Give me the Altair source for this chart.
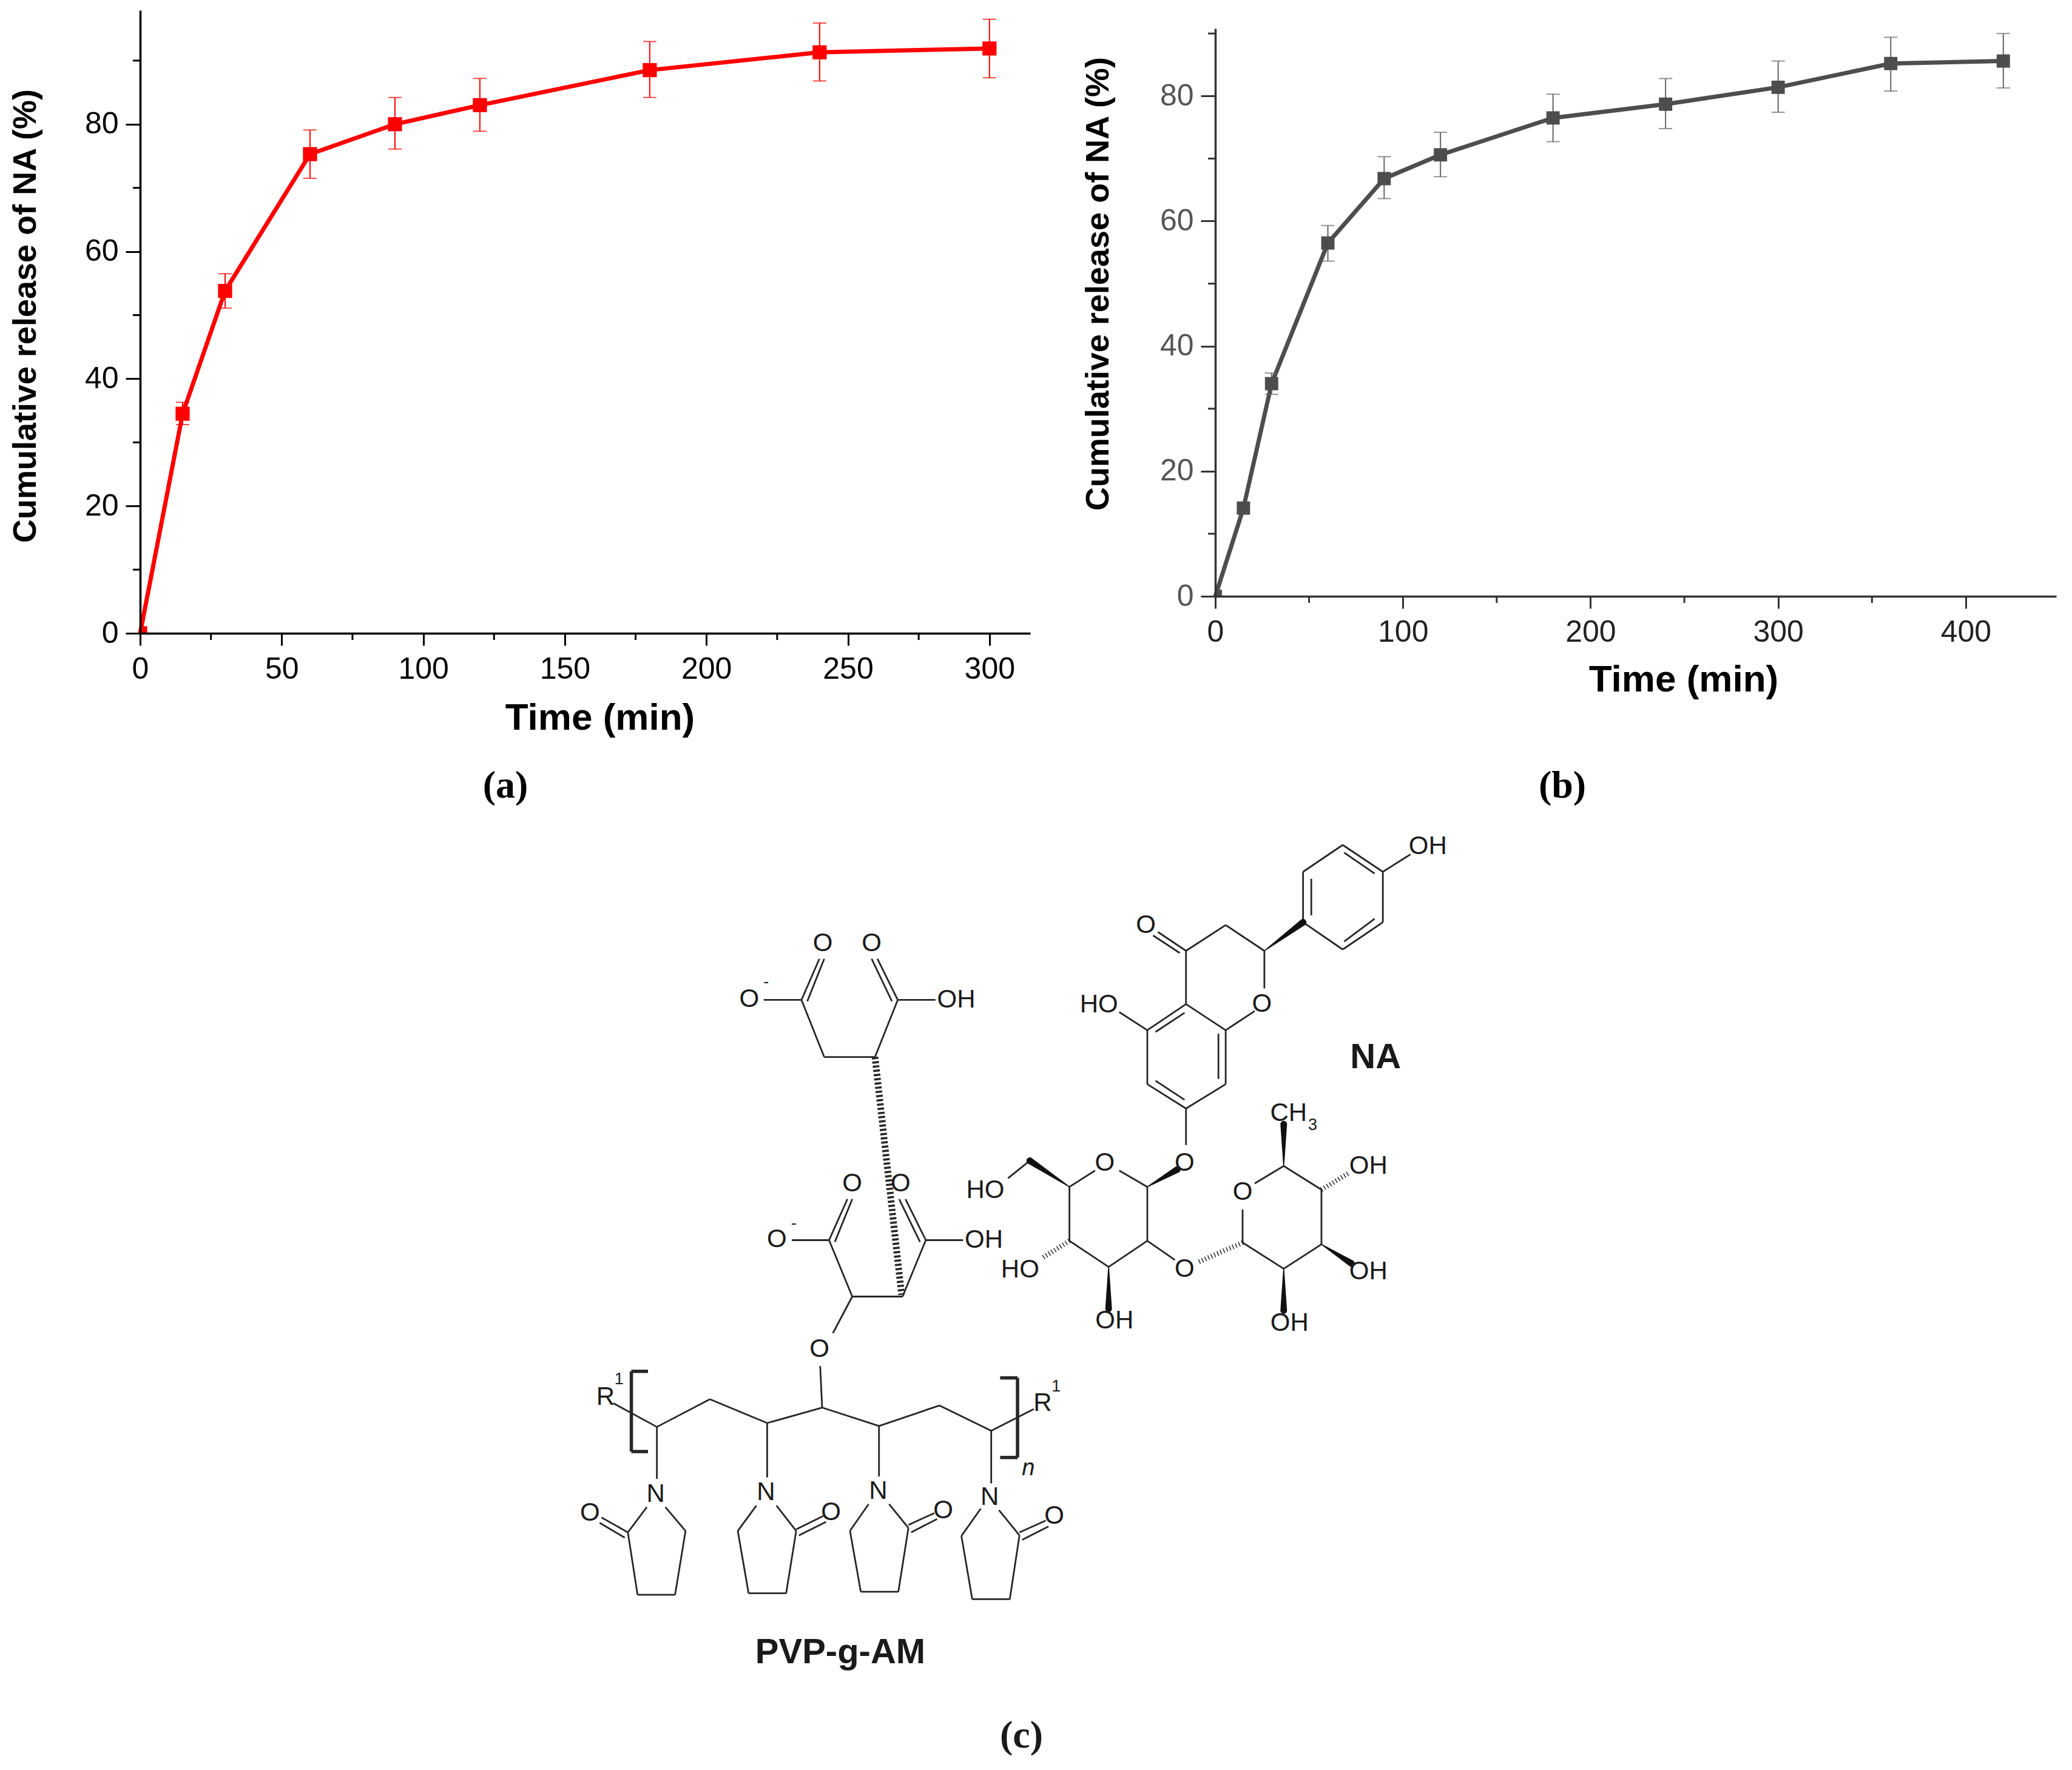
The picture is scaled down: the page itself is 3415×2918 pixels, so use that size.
import altair as alt
import pandas as pd

SANS = "Liberation Sans"
SERIF = "Liberation Serif"

# ---------- panel (a) ----------
a_time = [0, 15, 30, 60, 90, 120, 180, 240, 300]
a_mean = [0, 34.5, 53.8, 75.3, 80.0, 83.0, 88.5, 91.3, 91.9]
a_low = [0, 32.8, 51.1, 71.5, 76.1, 78.9, 84.2, 86.8, 87.3]
a_high = [0, 36.3, 56.5, 79.1, 84.2, 87.2, 93.0, 95.9, 96.5]
a_xticks = [0, 50, 100, 150, 200, 250, 300]
a_xminor = [25, 75, 125, 175, 225, 275]
a_yticks = [0, 20, 40, 60, 80]
a_yminor = [10, 30, 50, 70, 90]

# ---------- panel (b) ----------
b_time = [0, 15, 30, 60, 90, 120, 180, 240, 300, 360, 420]
b_mean = [0, 14.1, 34.0, 56.5, 66.8, 70.6, 76.5, 78.7, 81.4, 85.2, 85.6]
b_low = [0, 13.4, 32.3, 53.6, 63.6, 67.1, 72.7, 74.8, 77.4, 80.8, 81.3]
b_high = [0, 14.8, 35.7, 59.3, 70.3, 74.2, 80.3, 82.8, 85.6, 89.4, 90.0]
b_xticks = [0, 100, 200, 300, 400]
b_xminor = [50, 150, 250, 350]
b_yticks = [0, 20, 40, 60, 80]
b_yminor = [10, 30, 50, 70, 90]


def panel(time, mean, low, high, xticks, xminor, yticks, yminor, xmax, ymax, w, h, top,
          color, barcolor, xlabelcolor, ylabelcolor, domaincolor, xt, yt, tag, tag_xy, msize):
    df = pd.DataFrame({"t": time, "m": mean, "lo": low, "hi": high})
    sx = alt.Scale(domain=[0, xmax], nice=False, zero=False)
    sy = alt.Scale(domain=[0, ymax], nice=False, zero=False, range=[h, top])
    xax = alt.Axis(values=xticks, title=None, grid=False, format="d", labelFont=SANS, labelFontSize=50,
                   labelColor=xlabelcolor, labelPadding=14, tickSize=20, tickWidth=3, tickColor=domaincolor,
                   domainWidth=3.5, domainColor=domaincolor, labelFlush=False, labelOverlap=False, zindex=1)
    yax = alt.Axis(values=yticks, title=None, grid=False, format="d", labelFont=SANS,
                   labelFontSize=50, labelColor=ylabelcolor, labelPadding=12, tickSize=24, tickWidth=3,
                   tickColor=domaincolor, domainWidth=3.5, domainColor=domaincolor, labelFlush=False,
                   labelOverlap=False, zindex=1)
    X = alt.X("t:Q", scale=sx, axis=xax)
    base = alt.Chart(df)
    line = base.mark_line(color=color, strokeWidth=7).encode(x=X, y=alt.Y("m:Q", scale=sy, axis=yax))
    bars = base.mark_rule(color=barcolor, strokeWidth=2).encode(x=X, y=alt.Y("lo:Q", scale=sy, axis=yax), y2="hi:Q")
    cap_lo = base.mark_tick(color=barcolor, thickness=2, size=22, orient="horizontal").encode(
        x=X, y=alt.Y("lo:Q", scale=sy, axis=yax))
    cap_hi = base.mark_tick(color=barcolor, thickness=2, size=22, orient="horizontal").encode(
        x=X, y=alt.Y("hi:Q", scale=sy, axis=yax))
    pts = base.mark_square(color=color, size=msize, opacity=1, clip=True).encode(x=X, y=alt.Y("m:Q", scale=sy, axis=yax))
    xm = alt.Chart(pd.DataFrame({"t": xminor})).mark_rule(color=domaincolor, strokeWidth=3).encode(
        x=X, y=alt.value(h), y2=alt.value(h + 11))
    ym = alt.Chart(pd.DataFrame({"m": yminor})).mark_rule(color=domaincolor, strokeWidth=3).encode(
        y=alt.Y("m:Q", scale=sy, axis=yax), x=alt.value(0), x2=alt.value(-12))
    one = pd.DataFrame({"s": [tag], "x": ["Time (min)"], "y": ["Cumulative release of NA (%)"]})
    lab = alt.Chart(one).mark_text(
        font=SERIF, fontSize=64, fontWeight="bold", color="#000000", baseline="middle", align="center"
    ).encode(text="s:N", x=alt.value(tag_xy[0]), y=alt.value(tag_xy[1]))
    xtitle = alt.Chart(one).mark_text(
        font=SANS, fontSize=62, fontWeight="bold", color="#000000", baseline="middle", align="center"
    ).encode(text="x:N", x=alt.value(xt[0]), y=alt.value(xt[1]))
    ytitle = alt.Chart(one).mark_text(
        font=SANS, fontSize=54, fontWeight="bold", color="#000000", baseline="middle", align="center", angle=270
    ).encode(text="y:N", x=alt.value(yt[0]), y=alt.value(yt[1]))
    return alt.layer(line, xm, ym, bars, cap_lo, cap_hi, pts, lab, xtitle, ytitle).properties(width=w, height=h)


chart_a = panel(a_time, a_mean, a_low, a_high, a_xticks, a_xminor, a_yticks, a_yminor, 314.4, 97.9, 1467, 1027, 0,
                "#ff0000", "#ff0000", "#000000", "#000000", "#000000", (758, 1167), (-188, 504), "(a)", (602, 1279), 540)
chart_b = panel(b_time, b_mean, b_low, b_high, b_xticks, b_xminor, b_yticks, b_yminor, 448.2, 90.8, 1386, 966, 30,
                "#4d4d4d", "#666666", "#222222", "#555555", "#333333", (772, 1104), (-192, 451), "(b)", (572, 1279), 480)

# ---------- panel (c): structural formula, bonds in two reading frames ----------
Z3X, Z3Y, Z3OX, Z3OY = 1250 / 1568, 900 / 1568, 1200, 1350
Z4X, Z4Y, Z4OX, Z4OY = 1000 / 1568, 768 / 1568, 900, 2150

bonds_upper = [
    (75, 513, 153, 513), (153, 513, 190, 395), (165, 517, 200, 395), (153, 513, 200, 677), (200, 677, 305, 677),
    (305, 677, 352, 513), (352, 513, 430, 513), (352, 513, 310, 395), (340, 517, 298, 395),
    (133, 1203, 210, 1203), (210, 1203, 248, 1085), (222, 1208, 258, 1085), (210, 1203, 258, 1365),
    (258, 1365, 362, 1365), (362, 1365, 410, 1203), (410, 1203, 487, 1203), (410, 1203, 368, 1085),
    (398, 1208, 355, 1085), (258, 1365, 218, 1470),
]
bonds_naringin = [
    (1190, 290, 1190, 145), (1190, 145, 1272, 68), (1272, 68, 1355, 145), (1355, 145, 1355, 290),
    (1355, 290, 1272, 368), (1272, 368, 1190, 290), (1207, 270, 1207, 165), (1275, 90, 1338, 150),
    (1338, 280, 1275, 345), (1355, 145, 1412, 95),
    (948, 372, 1030, 298), (1030, 298, 1110, 372), (1110, 372, 1110, 480), (1090, 545, 1030, 600),
    (948, 525, 1030, 600), (948, 372, 948, 525), (948, 372, 890, 318), (935, 378, 880, 328),
    (1030, 600, 1030, 755), (1030, 755, 948, 825), (948, 825, 868, 755), (868, 755, 868, 600), (868, 600, 948, 525),
    (945, 550, 885, 605), (1015, 610, 1015, 740), (945, 800, 885, 745), (868, 600, 810, 548), (948, 825, 948, 930),
    (810, 1003, 868, 1050), (868, 1050, 868, 1205), (868, 1205, 788, 1280), (788, 1280, 707, 1205),
    (707, 1205, 707, 1050), (707, 1050, 760, 1003), (625, 975, 580, 1025), (868, 1205, 925, 1260),
    (1065, 1210, 1065, 1115), (1090, 1040, 1150, 990), (1150, 990, 1228, 1058), (1228, 1058, 1228, 1215),
    (1228, 1215, 1150, 1285), (1150, 1285, 1065, 1210),
]
wedges_z3 = [
    (1110, 372, 1190, 290), (868, 1050, 930, 1000), (707, 1050, 625, 975), (788, 1280, 788, 1400),
    (1150, 990, 1150, 870), (1228, 1215, 1290, 1270), (1150, 1285, 1150, 1405),
]
hashes_z3 = [(707, 1205, 650, 1255), (975, 1265, 1065, 1210), (1228, 1058, 1285, 1010)]
wavy_z3 = [(305, 677, 360, 1360)]

bonds_pvp = [
    (710, 200, 715, 340), (175, 325, 288, 405), (288, 405, 425, 312), (425, 312, 573, 392), (573, 392, 715, 340),
    (715, 340, 862, 402), (862, 402, 1018, 333), (1018, 333, 1152, 418), (1152, 418, 1262, 345),
    (288, 405, 288, 580), (573, 392, 573, 575), (862, 402, 862, 572), (1152, 418, 1152, 595),
    (262, 675, 213, 760), (310, 675, 362, 755), (362, 755, 335, 970), (335, 970, 238, 970), (238, 970, 213, 760),
    (213, 760, 145, 710), (205, 778, 140, 728),
    (545, 670, 497, 755), (497, 755, 525, 965), (525, 965, 622, 965), (622, 965, 648, 755), (648, 755, 597, 670),
    (648, 750, 718, 705), (655, 770, 725, 725),
    (835, 665, 787, 755), (787, 755, 815, 960), (815, 960, 912, 960), (912, 960, 938, 745), (938, 745, 888, 665),
    (938, 735, 1005, 695), (945, 760, 1012, 715),
    (1125, 680, 1075, 772), (1075, 772, 1103, 985), (1103, 985, 1200, 985), (1200, 985, 1225, 770),
    (1225, 770, 1172, 685), (1225, 760, 1293, 720), (1232, 785, 1300, 740),
]
brackets_pvp = [
    (265, 218, 222, 218), (222, 218, 222, 488), (222, 488, 265, 488),
    (1175, 240, 1220, 240), (1220, 240, 1220, 508), (1220, 508, 1175, 508),
]

atoms_z3 = [
    ("O", 45, 510), ("O", 197, 350), ("O", 298, 350), ("OH", 473, 513), ("O", 102, 1200), ("O", 258, 1040),
    ("O", 358, 1040), ("OH", 530, 1203), ("O", 190, 1515), ("OH", 1448, 72), ("O", 865, 298), ("O", 1105, 525),
    ("HO", 768, 527), ("O", 945, 980), ("O", 780, 980), ("HO", 533, 1060), ("HO", 605, 1287), ("OH", 800, 1433),
    ("O", 945, 1285), ("O", 1065, 1065), ("CH", 1160, 838), ("OH", 1325, 990), ("OH", 1325, 1292), ("OH", 1162, 1440),
]
atoms_z4 = [
    ("R", 155, 305), ("R", 1285, 325), ("N", 285, 630), ("N", 570, 625), ("N", 860, 620),
    ("N", 1148, 642), ("O", 115, 695), ("O", 738, 692), ("O", 1028, 685), ("O", 1315, 705),
]
small_z3 = [("3", 1210, 872), ("-", 80, 462), ("-", 137, 1155)]
small_z4 = [("1", 190, 245), ("1", 1320, 270)]
italic_z4 = [("n", 1248, 545)]
names_z3 = [("NA", 1340, 680)]
names_z4 = [("PVP-g-AM", 762, 1165)]
tags_z4 = [("(c)", 1230, 1445)]


def f3(b):
    return (Z3OX + b[0] * Z3X, Z3OY + b[1] * Z3Y, Z3OX + b[2] * Z3X, Z3OY + b[3] * Z3Y)


def f4(b):
    return (Z4OX + b[0] * Z4X, Z4OY + b[1] * Z4Y, Z4OX + b[2] * Z4X, Z4OY + b[3] * Z4Y)


def seg_df(rows):
    return pd.DataFrame(rows, columns=["x", "y", "x2", "y2"])


def txt_df(rows3, rows4):
    r = [(s, Z3OX + x * Z3X, Z3OY + y * Z3Y) for s, x, y in rows3]
    r += [(s, Z4OX + x * Z4X, Z4OY + y * Z4Y) for s, x, y in rows4]
    return pd.DataFrame(r, columns=["s", "x", "y"])


C_LEFT, C_RIGHT, C_TOP, C_BOTTOM = 232, 3406, 1340, 2905
csx = alt.Scale(domain=[C_LEFT, C_RIGHT], nice=False, zero=False)
csy = alt.Scale(domain=[C_BOTTOM, C_TOP], nice=False, zero=False)
cx = alt.X("x:Q", scale=csx, axis=None)
cy = alt.Y("y:Q", scale=csy, axis=None)


def seg_layer(rows, **kw):
    return alt.Chart(seg_df(rows)).mark_rule(color="#262626", **kw).encode(x=cx, y=cy, x2="x2:Q", y2="y2:Q")


def text_layer(rows3, rows4, **kw):
    return alt.Chart(txt_df(rows3, rows4)).mark_text(baseline="middle", align="center", color="#1a1a1a", **kw).encode(
        x=cx, y=cy, text="s:N")


all_bonds = [f3(b) for b in bonds_upper + bonds_naringin] + [f4(b) for b in bonds_pvp]
w_rows = []
for i, b in enumerate(wedges_z3):
    p = f3(b)
    w_rows.append({"id": i, "o": 0, "x": p[0], "y": p[1], "w": 1.5})
    w_rows.append({"id": i, "o": 1, "x": p[2], "y": p[3], "w": 11})
wedge_layer = alt.Chart(pd.DataFrame(w_rows)).mark_trail(color="#111111").encode(
    x=cx, y=cy, detail="id:N", order="o:Q", size=alt.Size("w:Q", scale=None))

chart_c = alt.layer(
    seg_layer(all_bonds, strokeWidth=2.8),
    seg_layer([f4(b) for b in brackets_pvp], strokeWidth=5.5),
    seg_layer([f3(b) for b in hashes_z3], strokeWidth=8, strokeDash=[1.5, 4]),
    seg_layer([f3(b) for b in wavy_z3], strokeWidth=11, strokeDash=[3.5, 3.5]),
    wedge_layer,
    text_layer(atoms_z3, atoms_z4, font=SANS, fontSize=42),
    text_layer(small_z3, small_z4, font=SANS, fontSize=27),
    text_layer([], italic_z4, font=SANS, fontSize=38, fontStyle="italic"),
    text_layer(names_z3, names_z4, font=SANS, fontSize=58, fontWeight="bold"),
    text_layer([], tags_z4, font=SERIF, fontSize=64, fontWeight="bold"),
).properties(width=C_RIGHT - C_LEFT, height=C_BOTTOM - C_TOP)

top = alt.hconcat(chart_a, chart_b, spacing=85)
chart = alt.vconcat(top, chart_c, spacing=16).properties(
    padding={"left": 7, "top": 9, "right": 0, "bottom": 0}, background="#ffffff"
).configure_view(stroke=None)

chart.save("out.html", embed_options={"renderer": "svg", "actions": False})
